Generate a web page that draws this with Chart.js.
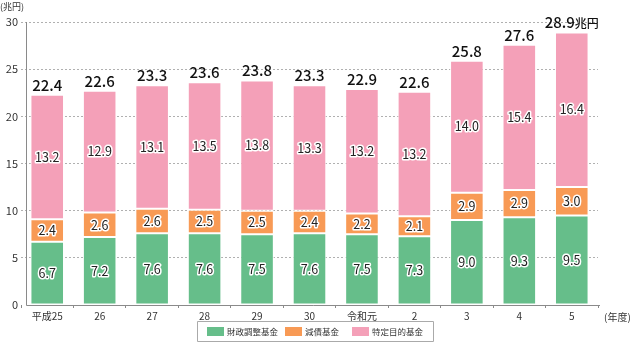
<!DOCTYPE html>
<html lang="ja">
<head>
<meta charset="UTF-8">
<script src="https://cdn.jsdelivr.net/npm/chart.js"></script>
<style>
  html, body { margin: 0; padding: 0; background: #fff; }
  #wrap { position: relative; width: 630px; height: 344px; }
</style>
</head>
<body>
<div id="wrap"><canvas id="fundChart" width="630" height="344"></canvas></div>
<script>
// 年度
var years = ['平成25', '26', '27', '28', '29', '30', '令和元', '2', '3', '4', '5'];
// 財政調整基金
var zaiseiChosei = [6.7, 7.2, 7.6, 7.6, 7.5, 7.6, 7.5, 7.3, 9.0, 9.3, 9.5];
// 減債基金
var gensai = [2.4, 2.6, 2.6, 2.5, 2.5, 2.4, 2.2, 2.1, 2.9, 2.9, 3.0];
// 特定目的基金
var tokuteiMokuteki = [13.2, 12.9, 13.1, 13.5, 13.8, 13.3, 13.2, 13.2, 14.0, 15.4, 16.4];
// 合計
var totals = [22.4, 22.6, 23.3, 23.6, 23.8, 23.3, 22.9, 22.6, 25.8, 27.6, 28.9];
var yTicks = [0, 5, 10, 15, 20, 25, 30];

var FONT = '"Noto Sans CJK JP", "Noto Sans", sans-serif';

var labelPlugin = {
    id: 'labelPlugin',
    afterDatasetsDraw: function (chart) {
        var ctx = chart.ctx;
        var yScale = chart.scales.y;
        ctx.save();

        // axis lines
        ctx.strokeStyle = '#8a8a8a';
        ctx.lineWidth = 1;
        ctx.beginPath();
        ctx.moveTo(26.5, yScale.getPixelForValue(30));
        ctx.lineTo(26.5, yScale.getPixelForValue(0) + 0.5);
        ctx.lineTo(600, yScale.getPixelForValue(0) + 0.5);
        ctx.stroke();

        // values inside segments
        ctx.font = '12.5px ' + FONT;
        ctx.textAlign = 'center';
        ctx.textBaseline = 'middle';
        ctx.lineJoin = 'round';
        chart.data.datasets.forEach(function (ds, di) {
            var meta = chart.getDatasetMeta(di);
            meta.data.forEach(function (bar, i) {
                var yc = (bar.y + bar.base) / 2;
                var txt = ds.data[i].toFixed(1);
                ctx.strokeStyle = '#fff';
                ctx.lineWidth = 3;
                ctx.strokeText(txt, bar.x, yc);
                ctx.fillStyle = '#222';
                ctx.fillText(txt, bar.x, yc);
            });
        });

        // totals above bars
        var topMeta = chart.getDatasetMeta(2);
        ctx.textBaseline = 'alphabetic';
        ctx.fillStyle = '#111';
        topMeta.data.forEach(function (bar, i) {
            var txt = totals[i].toFixed(1);
            ctx.font = '500 15px ' + FONT;
            if (i === totals.length - 1) {
                var w1 = ctx.measureText(txt).width;
                ctx.font = '500 12px ' + FONT;
                var w2 = ctx.measureText('兆円').width;
                var x0 = bar.x - (w1 + w2) / 2;
                ctx.textAlign = 'left';
                ctx.font = '500 15px ' + FONT;
                ctx.fillText(txt, x0, bar.y - 4);
                ctx.font = '500 12px ' + FONT;
                ctx.fillText('兆円', x0 + w1, bar.y - 4);
                ctx.textAlign = 'center';
            } else {
                ctx.fillText(txt, bar.x, bar.y - 4);
            }
        });

        // unit labels
        ctx.font = '9px ' + FONT;
        ctx.fillStyle = '#333';
        ctx.textAlign = 'left';
        ctx.textBaseline = 'middle';
        ctx.fillText('(兆円)', 0, 7);
        ctx.font = '10px ' + FONT;
        ctx.fillText('(年度)', 604, 317);

        // legend
        ctx.strokeStyle = '#aaa';
        ctx.lineWidth = 1;
        ctx.strokeRect(197.5, 321.5, 236, 20);
        var items = [[207, 227], [285, 305], [352, 372]];
        chart.data.datasets.forEach(function (ds, di) {
            ctx.fillStyle = ds.backgroundColor;
            ctx.fillRect(items[di][0], 327, 17, 9);
            ctx.fillStyle = '#333';
            ctx.font = '8.5px ' + FONT;
            ctx.fillText(ds.label, items[di][1], 332);
        });
        ctx.restore();
    }
};

new Chart(document.getElementById('fundChart').getContext('2d'), {
    type: 'bar',
    data: {
        labels: years,
        datasets: [
            { label: '財政調整基金', data: zaiseiChosei, backgroundColor: '#66be8a' },
            { label: '減債基金', data: gensai, backgroundColor: '#f89a55' },
            { label: '特定目的基金', data: tokuteiMokuteki, backgroundColor: '#f4a0b8' }
        ].map(function (d) {
            d.borderColor = '#fff';
            d.borderWidth = 1;
            d.borderSkipped = false;
            d.barPercentage = 0.64;
            d.categoryPercentage = 1;
            return d;
        })
    },
    options: {
        responsive: false,
        animation: false,
        events: [],
        layout: { padding: { top: 22, right: 32, bottom: 22, left: 0 } },
        plugins: { legend: { display: false }, tooltip: { enabled: false } },
        scales: {
            x: {
                stacked: true,
                border: { display: false },
                grid: { display: true, drawOnChartArea: false, drawTicks: true, tickLength: 3, color: '#8a8a8a', offset: true },
                ticks: { color: '#333', font: { family: FONT, size: 10 }, padding: 2, maxRotation: 0, autoSkip: false },
                afterFit: function (s) { s.height = 17; }
            },
            y: {
                stacked: true,
                min: 0,
                max: 30,
                border: { display: false, dash: [2, 2] },
                grid: {
                    color: function (c) { return c.tick.value === 0 ? 'rgba(0,0,0,0)' : '#b0b0b0'; },
                    drawTicks: false
                },
                afterBuildTicks: function (s) { s.ticks = yTicks.map(function (v) { return { value: v }; }); },
                ticks: { color: '#333', font: { family: FONT, size: 11 }, padding: 3 },
                afterFit: function (s) { s.width = 21; }
            }
        }
    },
    plugins: [labelPlugin]
});
</script>
</body>
</html>
